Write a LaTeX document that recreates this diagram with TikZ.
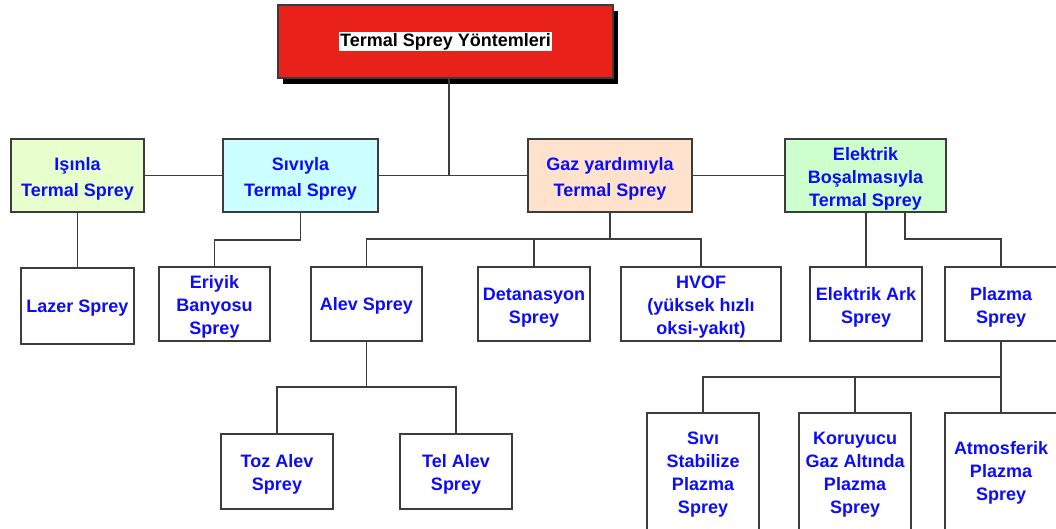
\documentclass[tikz,border=0pt]{standalone}
\usepackage{fontspec}
\setmainfont{Liberation Sans}
\usetikzlibrary{shadows}
\definecolor{titlered}{RGB}{232,33,26}
\definecolor{cisin}{RGB}{230,255,204}
\definecolor{csivi}{RGB}{204,255,255}
\definecolor{cgaz}{RGB}{255,226,204}
\definecolor{celek}{RGB}{204,255,204}
\definecolor{txtblue}{RGB}{12,12,245}
\definecolor{edgegray}{RGB}{60,60,60}
\newcommand{\tp}{\rule{0pt}{19pt}}
\tikzset{
  box/.style={draw=edgegray, line width=1.4pt, align=center, inner sep=0pt,
    font=\fontsize{18}{23}\selectfont\bfseries, text=txtblue, fill=white},
  widebox/.style={box, font=\fontsize{18}{26}\selectfont\bfseries},
  conn/.style={draw=edgegray, line width=1.3pt},
}
\begin{document}
\begin{tikzpicture}[x=1pt,y=-1pt]
\useasboundingbox (0,0) rectangle (1056,528);
\clip (0,0) rectangle (1056,528);
\fill[white] (0,0) rectangle (1056,528);

% title
\node[draw=edgegray, line width=1.4pt, fill=titlered, minimum width=335pt, minimum height=73pt, inner sep=0pt,
  drop shadow={shadow xshift=5pt, shadow yshift=-6pt, opacity=1, fill=black},
  font=\fontsize{18}{23}\selectfont\bfseries] (title) at (445.5,41.5)
  {\setlength{\fboxsep}{1.5pt}\colorbox{white}{Termal Sprey Yöntemleri}};

% level 1
\node[widebox, fill=cisin, minimum width=133pt, minimum height=73pt] (isinla) at (77.5,175.5) {\tp Işınla\\Termal Sprey};
\node[widebox, fill=csivi, minimum width=155pt, minimum height=73pt] (siviyla) at (300.5,175.5) {\tp Sıvıyla\\Termal Sprey};
\node[widebox, fill=cgaz, minimum width=164pt, minimum height=73pt] (gaz) at (610,175.5) {\tp Gaz yardımıyla\\Termal Sprey};
\node[box, fill=celek, minimum width=161pt, minimum height=73pt] (elektrik) at (865.5,175.5) {\tp Elektrik\\Boşalmasıyla\\Termal Sprey};

% level 2
\node[box, minimum width=113pt, minimum height=76pt] (lazer) at (77.5,306) {\rule{0pt}{17pt}Lazer Sprey};
\node[box, minimum width=111pt, minimum height=74pt] (eriyik) at (214.5,304) {\tp Eriyik\\Banyosu\\Sprey};
\node[box, minimum width=111pt, minimum height=74pt] (alev) at (366.5,304) {\rule{0pt}{17pt}Alev Sprey};
\node[box, minimum width=112pt, minimum height=74pt] (detan) at (534,304) {\tp Detanasyon\\Sprey};
\node[box, minimum width=160pt, minimum height=74pt] (hvof) at (701,304) {\tp HVOF\\(yüksek hızlı\\oksi-yakıt)};
\node[box, minimum width=112pt, minimum height=74pt] (ark) at (866,304) {\tp Elektrik Ark\\Sprey};
\node[box, minimum width=112pt, minimum height=74pt] (plazma) at (1001,304) {\tp Plazma\\Sprey};

% level 3
\node[box, minimum width=112pt, minimum height=75pt] (toz) at (277,471.5) {\tp Toz Alev\\Sprey};
\node[box, minimum width=112pt, minimum height=75pt] (tel) at (456,471.5) {\tp Tel Alev\\Sprey};
\node[box, minimum width=112pt, minimum height=117pt] (sivi) at (703,471.5) {\tp Sıvı\\Stabilize\\Plazma\\Sprey};
\node[box, minimum width=112pt, minimum height=117pt] (koruyucu) at (855,471.5) {\tp Koruyucu\\Gaz Altında\\Plazma\\Sprey};
\node[box, minimum width=112pt, minimum height=117pt] (atmos) at (1001,471.5) {\rule{0pt}{15pt}Atmosferik\\Plazma\\Sprey};

% connectors
\draw[conn] ([xshift=3.5pt]title.south) |- (siviyla.east);
\draw[conn] (isinla.east) -- (siviyla.west);
\draw[conn] (siviyla.east) -- (gaz.west);
\draw[conn] (gaz.east) -- (elektrik.west);
\draw[conn] (isinla.south) -- (lazer.north);

\coordinate (sj) at (300.5,240);
\draw[conn] (siviyla.south) -- (sj) -| (eriyik.north);

\coordinate (gj) at (610,239);
\draw[conn] (gaz.south) -- (gj);
\draw[conn] (alev.north) |- (gj) -| (hvof.north);
\draw[conn] (detan.north) -- (detan.north |- gj);

\draw[conn] (ark.north) -- (ark.north |- elektrik.south);
\coordinate (ej) at (905,239);
\draw[conn] (ej |- elektrik.south) -- (ej) -| (plazma.north);

\coordinate (aj) at (366.5,387);
\draw[conn] (alev.south) -- (aj);
\draw[conn] (toz.north) |- (aj) -| (tel.north);

\coordinate (pj) at (1001,377);
\draw[conn] (plazma.south) -- (atmos.north);
\draw[conn] (sivi.north) |- (pj);
\draw[conn] (koruyucu.north) -- (koruyucu.north |- pj);
\end{tikzpicture}
\end{document}
